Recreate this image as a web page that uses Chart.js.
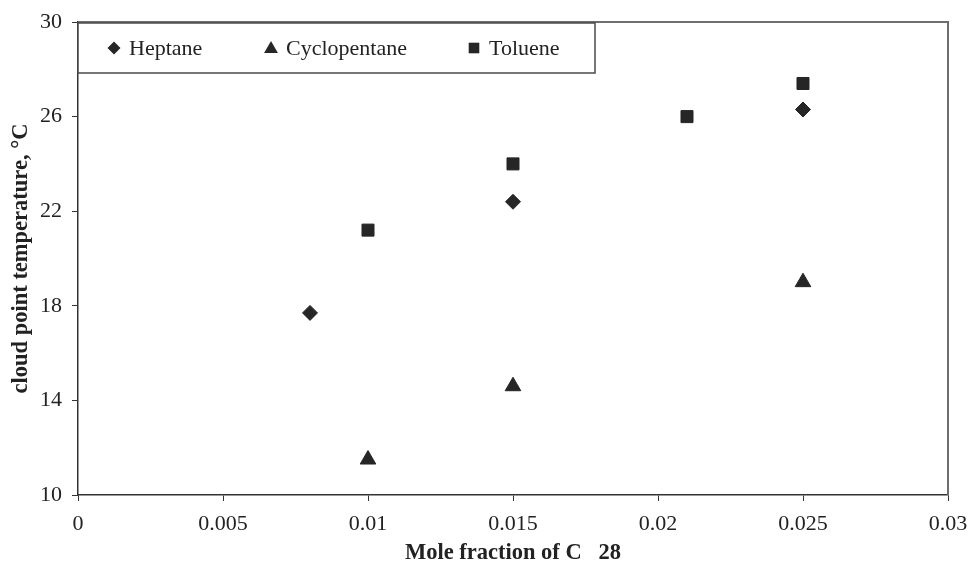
<!DOCTYPE html>
<html>
<head>
<meta charset="utf-8">
<script src="https://cdn.jsdelivr.net/npm/chart.js@4/dist/chart.umd.min.js"></script>
<style>
  html, body { margin: 0; padding: 0; background: #fff; }
  canvas { display: block; }
</style>
</head>
<body>
<canvas id="cloudChart" width="969" height="571"></canvas>
<script>
// Data
const seriesNames = ['Heptane', 'Cyclopentane', 'Toluene'];
const heptaneX = [0.008, 0.015, 0.025];
const heptaneY = [17.7, 22.4, 26.3];
const cycloX = [0.01, 0.015, 0.025];
const cycloY = [11.5, 14.6, 19.0];
const tolueneX = [0.01, 0.015, 0.021, 0.025];
const tolueneY = [21.2, 24.0, 26.0, 27.4];
const xTickLabels = ['0', '0.005', '0.01', '0.015', '0.02', '0.025', '0.03'];
const yTickLabels = ['10', '14', '18', '22', '26', '30'];

const markColor = '#262626';
const serif = "'Liberation Serif', 'Times New Roman', serif";

function toPoints(xs, ys) {
    return xs.map((x, i) => ({ x: x, y: ys[i] }));
}

const styles = [
    { pointStyle: 'rectRot', radius: 7.5 },
    { pointStyle: 'triangle', radius: 9 },
    { pointStyle: 'rect', radius: 8.5 }
];

// legend box drawn inside the plot area, like the original
const insideLegend = {
    id: 'insideLegend',
    afterDraw(chart) {
        const ctx = chart.ctx;
        const area = chart.chartArea;
        ctx.save();
        // top and right frame
        ctx.strokeStyle = '#6e6e6e';
        ctx.lineWidth = 2;
        ctx.beginPath();
        ctx.moveTo(area.left, area.top);
        ctx.lineTo(area.right, area.top);
        ctx.lineTo(area.right, area.bottom);
        ctx.stroke();

        const boxL = area.left, boxT = area.top + 1, boxR = 595, boxB = 73;
        ctx.fillStyle = '#fff';
        ctx.fillRect(boxL, boxT, boxR - boxL, boxB - boxT);
        ctx.strokeStyle = '#4a4a4a';
        ctx.lineWidth = 1.5;
        ctx.strokeRect(boxL, boxT, boxR - boxL, boxB - boxT);

        const markerX = [114, 271, 474];
        const cy = (boxT + boxB) / 2;
        ctx.font = '22px ' + serif;
        ctx.textBaseline = 'middle';
        ctx.textAlign = 'left';
        seriesNames.forEach((name, i) => {
            ctx.fillStyle = markColor;
            ctx.strokeStyle = markColor;
            ctx.lineWidth = 1;
            Chart.helpers.drawPoint(ctx, { pointStyle: styles[i].pointStyle, radius: styles[i].radius - 1, rotation: 0 }, markerX[i], cy + (i === 1 ? 1 : 0));
            ctx.fillStyle = '#222';
            ctx.fillText(name, markerX[i] + 15, cy + 1);
        });
        ctx.restore();
    }
};

const ctx = document.getElementById('cloudChart').getContext('2d');
const cloudChart = new Chart(ctx, {
    type: 'scatter',
    data: {
        datasets: [
            { label: seriesNames[0], data: toPoints(heptaneX, heptaneY) },
            { label: seriesNames[1], data: toPoints(cycloX, cycloY) },
            { label: seriesNames[2], data: toPoints(tolueneX, tolueneY) }
        ].map((ds, i) => Object.assign(ds, {
            pointStyle: styles[i].pointStyle,
            pointRadius: styles[i].radius,
            pointHoverRadius: styles[i].radius,
            backgroundColor: markColor,
            borderColor: markColor,
            borderWidth: 1
        }))
    },
    options: {
        responsive: false,
        animation: false,
        layout: { padding: { left: 0, top: 22, right: 21, bottom: 0 } },
        plugins: {
            legend: { display: false },
            tooltip: { enabled: false }
        },
        scales: {
            x: {
                type: 'linear',
                min: 0,
                max: 0.03,
                afterFit(scale) {
                    scale.height = 76;
                    scale.paddingLeft = 0;
                    scale.paddingRight = 0;
                },
                border: { color: '#333', width: 1.5 },
                grid: { drawOnChartArea: false, drawTicks: true, tickLength: 6, tickColor: '#333' },
                ticks: {
                    stepSize: 0.005,
                    padding: 10,
                    color: '#222',
                    font: { family: serif, size: 22 },
                    callback: (v, i) => xTickLabels[i]
                },
                title: {
                    display: true,
                    text: 'Mole fraction of C   28',
                    color: '#222',
                    font: { family: serif, size: 22.5, weight: 'bold' },
                    padding: { top: 0, bottom: 4 }
                }
            },
            y: {
                type: 'linear',
                min: 10,
                max: 30,
                afterFit(scale) {
                    scale.width = 78;
                    scale.paddingTop = 0;
                    scale.paddingBottom = 0;
                },
                border: { color: '#333', width: 1.5 },
                grid: { drawOnChartArea: false, drawTicks: true, tickLength: 6, tickColor: '#333' },
                ticks: {
                    stepSize: 4,
                    padding: 10,
                    color: '#222',
                    font: { family: serif, size: 22 },
                    callback: (v, i) => yTickLabels[i]
                },
                title: {
                    display: true,
                    text: 'cloud point temperature, °C',
                    color: '#222',
                    font: { family: serif, size: 22.5, weight: 'bold' },
                    padding: { top: 8, bottom: 0 }
                }
            }
        }
    },
    plugins: [insideLegend]
});
</script>
</body>
</html>
